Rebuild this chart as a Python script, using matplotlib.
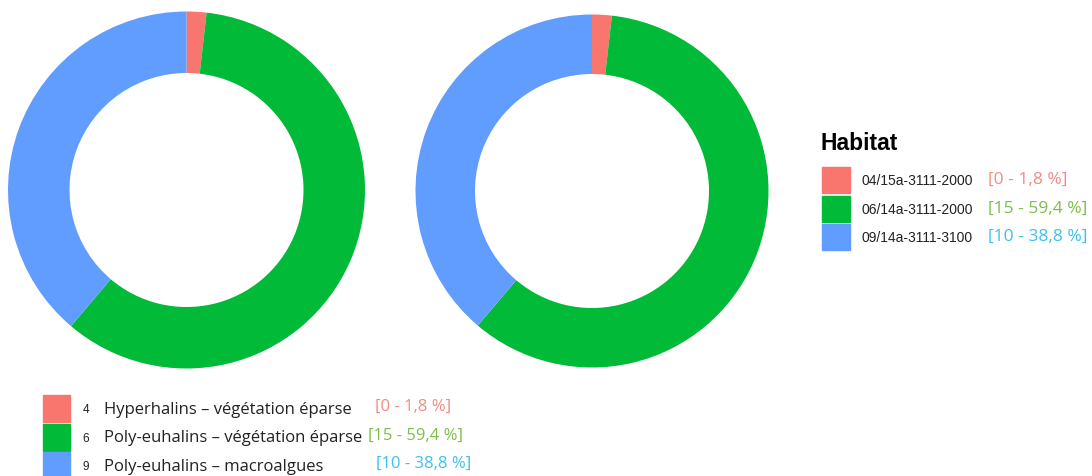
import matplotlib.pyplot as plt
from matplotlib.patches import Rectangle

W, H = 1092, 476

habitats = ["04/15a-3111-2000", "06/14a-3111-2000", "09/14a-3111-3100"]
codes = ["4", "6", "9"]
names = ["Hyperhalins – végétation éparse",
         "Poly-euhalins – végétation éparse",
         "Poly-euhalins – macroalgues"]
shares_left = [1.8, 59.4, 38.8]
shares_right = [1.8, 59.4, 38.8]
ranges = ["[0 - 1,8 %]", "[15 - 59,4 %]", "[10 - 38,8 %]"]

colors = ["#F8766D", "#00BA38", "#619CFF"]
range_colors = ["#F08C84", "#7DBE4A", "#3DC0F0"]

fig = plt.figure(figsize=(W / 100, H / 100), dpi=100)
fig.patch.set_facecolor("white")


def px(x, y):
    # pixel position (from top-left) -> figure fraction
    return x / W, 1 - y / H


def donut(cx, cy, r, hole, values):
    ax = fig.add_axes([(cx - r) / W, 1 - (cy + r) / H, 2 * r / W, 2 * r / H])
    ax.pie(values, colors=colors, startangle=90, counterclock=False,
           radius=1, wedgeprops=dict(width=1 - hole / r, linewidth=0))
    ax.set_xlim(-1, 1)
    ax.set_ylim(-1, 1)
    ax.set_aspect("equal")
    ax.axis("off")


donut(186.5, 190, 178.5, 117, shares_left)
donut(592, 191, 176.5, 117, shares_right)

# legend on the right
fig.text(*px(821, 144), "Habitat", fontsize=16.5, fontweight="bold",
         family="Liberation Sans", va="center", ha="left")
for i, (lab, rng) in enumerate(zip(habitats, ranges)):
    y = 167 + i * 28.5
    fig.patches.append(Rectangle(px(822, y + 26), 28 / W, 26 / H,
                                 color=colors[i], transform=fig.transFigure))
    fig.text(*px(862, y + 14), lab, fontsize=10,
             family="Liberation Sans", va="center", color="#222222")
    fig.text(*px(988, y + 13), rng, fontsize=12.5,
             family="Open Sans", va="center", color=range_colors[i])

# legend at the bottom
range_x = [375, 368, 376]
for i in range(3):
    y = 395 + i * 28.5
    fig.patches.append(Rectangle(px(43, y + 27), 27 / W, 27 / H,
                                 color=colors[i], transform=fig.transFigure))
    fig.text(*px(86, y + 15), codes[i], fontsize=8.5,
             family="Liberation Sans", va="center", ha="center", color="#222222")
    fig.text(*px(104, y + 15), names[i], fontsize=12,
             family="Open Sans", va="center", color="#222222")
    fig.text(*px(range_x[i], y + 12), ranges[i], fontsize=12,
             family="Open Sans", va="center", color=range_colors[i])

fig.savefig("out.png", dpi=100)
